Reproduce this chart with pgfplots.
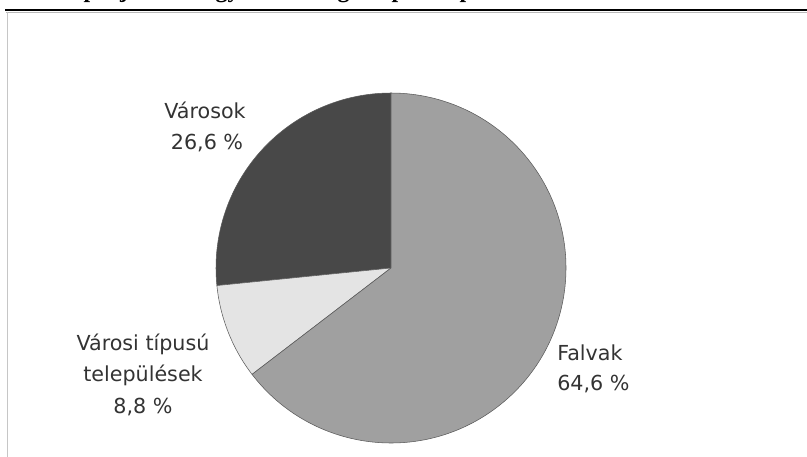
\documentclass[border=0pt]{standalone}
\usepackage{pgfplots}
\pgfplotsset{compat=1.18}
\usepackage{fontspec}
\setmainfont{DejaVu Sans}
\newfontfamily\titlefont{Liberation Serif}
\definecolor{cdark}{HTML}{484848}
\definecolor{cmid}{HTML}{A0A0A0}
\definecolor{clight}{HTML}{E4E4E4}
\definecolor{txt}{HTML}{333333}
\newcommand\lbl{\fontsize{15.5}{22}\selectfont}
\begin{document}
\begin{tikzpicture}
\clip (0,0) rectangle (605.25pt,342.75pt);
\begin{axis}[at={(0,0)}, anchor=south west, x=0.75pt, y=0.75pt,
  xmin=0, xmax=807, ymin=0, ymax=457, hide axis, clip=false]
% title (cut off at the top: only its descenders show)
\node[anchor=base west, font=\titlefont\bfseries\fontsize{18}{22}\selectfont, inner sep=0pt] at (axis cs:46,459.6) {Csepel járási megyei lakosság településtípusok szerint};
% frame
\draw[line width=1.3pt, gray!55] (axis cs:6,444.5) -- (axis cs:807,444.5);
\draw[line width=1.8pt, black] (axis cs:5,446.8) -- (axis cs:807,446.8);
\draw[line width=1.1pt, gray!45] (axis cs:7.5,0) -- (axis cs:7.5,445);
% pie: Városok, Városi típusú települések, Falvak (counter-clockwise from top)
\xdef\start{90}
\foreach \v/\col in {26.6/cdark, 8.8/clight, 64.6/cmid} {
  \pgfmathsetmacro\stop{\start+3.6*\v}
  \edef\temp{\noexpand\filldraw[fill=\col, draw=gray!70!black, line width=0.4pt]
    (axis cs:391,189) -- ++(\start:131.25pt) arc[start angle=\start, end angle=\stop, radius=131.25pt] -- cycle;}
  \temp
  \xdef\start{\stop}
}
% labels
\node[anchor=base, text=txt, font=\lbl, inner sep=0pt] at (axis cs:205,338) {Városok};
\node[anchor=base, text=txt, font=\lbl, inner sep=0pt] at (axis cs:207,307) {26,6 \%};
\node[anchor=base, text=txt, font=\lbl, inner sep=0pt] at (axis cs:143,106) {Városi típusú};
\node[anchor=base, text=txt, font=\lbl, inner sep=0pt] at (axis cs:143,75) {települések};
\node[anchor=base, text=txt, font=\lbl, inner sep=0pt] at (axis cs:143,44) {8,8 \%};
\node[anchor=base west, text=txt, font=\lbl, inner sep=0pt] at (axis cs:557,96) {Falvak};
\node[anchor=base west, text=txt, font=\lbl, inner sep=0pt] at (axis cs:557,66) {64,6 \%};
\end{axis}
\end{tikzpicture}
\end{document}
